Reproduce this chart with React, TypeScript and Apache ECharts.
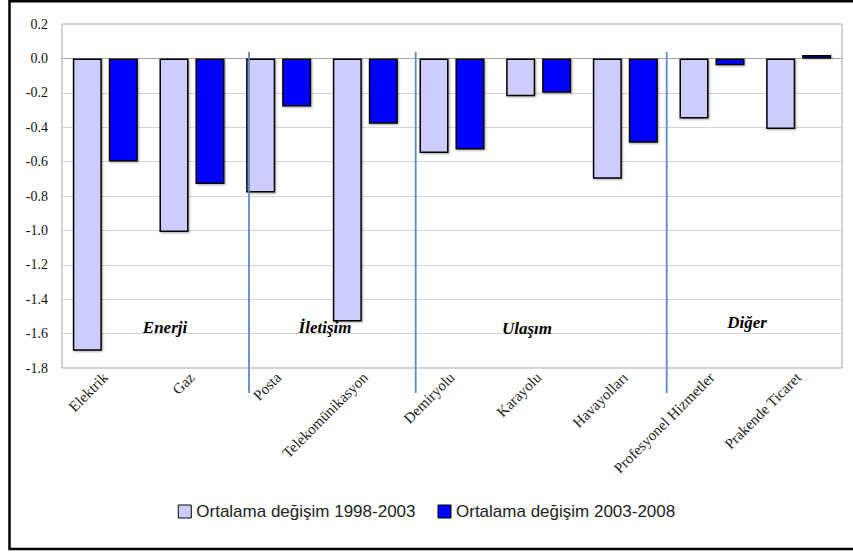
import React, { useEffect, useRef } from "react";
import * as echarts from "echarts";

const categories = [
  "Elektrik",
  "Gaz",
  "Posta",
  "Telekomünikasyon",
  "Demiryolu",
  "Karayolu",
  "Havayolları",
  "Profesyonel Hizmetler",
  "Prakende Ticaret",
];
const series1998 = [-1.7, -1.01, -0.78, -1.53, -0.55, -0.22, -0.7, -0.35, -0.41];
const series2003 = [-0.6, -0.73, -0.28, -0.38, -0.53, -0.2, -0.49, -0.04, 0.02];
const seriesNames = ["Ortalama değişim 1998-2003", "Ortalama değişim 2003-2008"];
const groupLabels = ["Enerji", "İletişim", "Ulaşım", "Diğer"];

export default function App() {
  const ref = useRef<HTMLDivElement>(null);
  useEffect(() => {
    document.body.style.margin = "0";
    const chart = echarts.init(ref.current!, undefined, { renderer: "svg" });
    const serif = "Liberation Serif";
    const barStyle = (color: string) => ({
      color,
      borderColor: "#000",
      borderWidth: 1.5,
      shadowColor: "rgba(0,0,0,0.35)",
      shadowBlur: 2,
      shadowOffsetX: 1,
      shadowOffsetY: 1,
    });
    const sepColor = "#5b8bc9";
    const groupPos = [
      [165, 327],
      [325, 327],
      [527, 328],
      [747, 322],
    ];
    chart.setOption({
      animation: false,
      backgroundColor: "#fff",
      grid: {
        left: 62,
        right: 11,
        top: 24,
        bottom: 184,
        show: true,
        borderColor: "#a6a6a6",
        borderWidth: 1,
        outerBoundsMode: "none",
      },
      legend: {
        bottom: 27,
        left: "center",
        itemWidth: 13,
        itemHeight: 13,
        itemGap: 22,
        icon: "rect",
        textStyle: {
          fontFamily: "Liberation Sans",
          fontSize: 17,
          color: "#222",
        },
        data: seriesNames.map((n) => ({
          name: n,
          itemStyle: { borderColor: "#000", borderWidth: 1, shadowBlur: 0, shadowOffsetX: 0, shadowOffsetY: 0 },
        })),
      },
      xAxis: {
        type: "category",
        data: categories,
        axisLine: { show: true, lineStyle: { color: "#a6a6a6" } },
        axisTick: { show: false },
        splitLine: { show: false },
        axisLabel: {
          interval: 0,
          rotate: 45,
          margin: 7,
          fontFamily: serif,
          fontSize: 15,
          color: "#222",
        },
      },
      yAxis: {
        type: "value",
        min: -1.8,
        max: 0.2,
        interval: 0.2,
        axisLine: { show: false },
        axisTick: { show: false },
        splitLine: { lineStyle: { color: "#d4d4d4" } },
        axisLabel: {
          margin: 14,
          fontFamily: serif,
          fontSize: 14,
          color: "#111",
          formatter: (v: number) => (Math.abs(v) < 1e-9 ? "0.0" : v.toFixed(1)),
        },
      },
      series: [
        {
          name: seriesNames[0],
          type: "bar",
          data: series1998,
          itemStyle: barStyle("#ccccff"),
          barGap: "24%",
          barCategoryGap: "25%",
        },
        {
          name: seriesNames[1],
          type: "bar",
          data: series2003,
          itemStyle: barStyle("#0000ff"),
          barGap: "24%",
          barCategoryGap: "25%",
        },
      ],
      graphic: [
        {
          type: "polyline",
          shape: { points: [[853, 1.2], [9.5, 1.2], [9.5, 549], [853, 549]] },
          style: { stroke: "#000", lineWidth: 2.5, fill: "none" },
          z: 100,
        },
        ...[249, 415.7, 666.7].map((x) => ({
          type: "line",
          shape: { x1: x, y1: 52, x2: x, y2: 393 },
          style: { stroke: sepColor, lineWidth: 1.8 },
          z: 50,
        })),
        ...groupLabels.map((t, i) => ({
          type: "text",
          x: groupPos[i][0],
          y: groupPos[i][1],
          style: {
            text: t,
            fontFamily: serif,
            fontStyle: "italic",
            fontWeight: "bold",
            fontSize: 17,
            fill: "#000",
            align: "center",
            verticalAlign: "middle",
          },
          z: 60,
        })),
      ],
    });
    return () => chart.dispose();
  }, []);
  return <div ref={ref} style={{ width: 853, height: 552 }} />;
}
